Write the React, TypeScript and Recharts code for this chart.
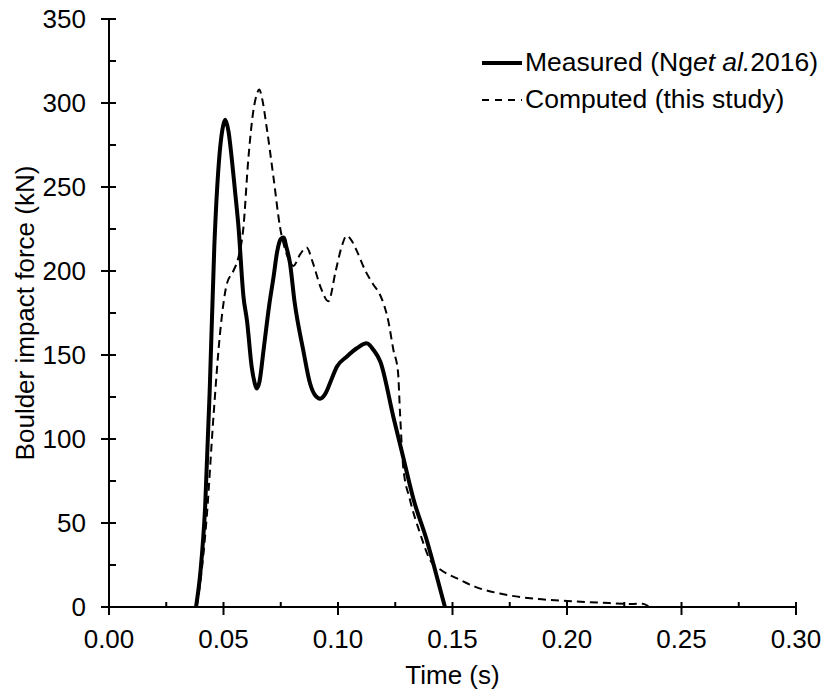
import React from 'react';
import { LineChart, Line, XAxis, YAxis, Legend } from 'recharts';

const measuredTime = [0.038, 0.040, 0.042, 0.044, 0.046, 0.048, 0.0495, 0.0507, 0.0522, 0.0536, 0.0550, 0.0565, 0.0587, 0.0603, 0.0623, 0.0635, 0.0645, 0.0657, 0.0675, 0.0700, 0.0718, 0.0735, 0.0750, 0.0762, 0.0775, 0.0790, 0.0810, 0.0848, 0.0878, 0.0900, 0.0922, 0.0945, 0.0970, 0.0995, 0.1038, 0.1082, 0.1125, 0.1155, 0.1185, 0.1242, 0.1285, 0.1330, 0.1387, 0.1420, 0.1467];
const measuredForce = [0, 22, 60, 130, 215, 265, 284, 290, 283, 267, 248, 227, 185, 170, 143, 134, 130, 134, 153, 180, 196, 212, 219, 220, 214, 205, 182, 153, 133, 126, 124, 127, 135, 143, 149, 154, 157, 153, 146, 113, 89, 64, 40, 24, 0];

const computedTime = [0.0383, 0.0405, 0.0427, 0.0456, 0.0485, 0.0514, 0.0543, 0.0565, 0.0587, 0.0608, 0.0630, 0.0645, 0.0656, 0.0668, 0.0689, 0.0718, 0.0747, 0.0776, 0.0805, 0.0835, 0.0863, 0.0890, 0.0925, 0.0958, 0.0990, 0.1015, 0.1038, 0.1060, 0.1082, 0.1120, 0.1154, 0.1183, 0.1220, 0.1242, 0.1262, 0.1271, 0.1285, 0.1314, 0.1358, 0.1402, 0.1450, 0.1520, 0.1600, 0.1707, 0.1853, 0.2000, 0.2144, 0.2289, 0.2330, 0.2355];
const computedForce = [0, 22, 54, 113, 163, 192, 200, 208, 226, 266, 295, 305, 308, 303, 285, 256, 226, 210, 203, 210, 214, 205, 190, 182, 200, 214, 221, 218, 212, 200, 192, 186, 170, 153, 140, 115, 83, 64, 44, 28, 22, 17, 12, 8, 5, 3.6, 2.6, 1.8, 2, 0.5];

const xTicks = [0, 0.025, 0.05, 0.075, 0.1, 0.125, 0.15, 0.175, 0.2, 0.225, 0.25, 0.275, 0.3];
const yTicks = [0, 25, 50, 75, 100, 125, 150, 175, 200, 225, 250, 275, 300, 325, 350];

const measured = measuredTime.map((t, i) => ({ t, f: measuredForce[i] }));
const computed = computedTime.map((t, i) => ({ t, f: computedForce[i] }));

const font = '"Liberation Sans", Arial, sans-serif';

const XTick = (props: any) => {
  const { x, y, payload } = props;
  const v = payload.value;
  const major = Math.abs(v / 0.05 - Math.round(v / 0.05)) < 1e-6;
  return (
    <g>
      <line x1={x} x2={x} y1={y - 5} y2={major ? y + 8 : y} stroke="#000" strokeWidth={2} />
      {major && (
        <text x={x} y={y + 41} textAnchor="middle" fontSize={26} fontFamily={font} fill="#000">
          {v.toFixed(2)}
        </text>
      )}
    </g>
  );
};

const YTick = (props: any) => {
  const { x, y, payload } = props;
  const major = payload.value % 50 === 0;
  return (
    <g>
      <line x1={major ? x - 8 : x} x2={x + 7} y1={y} y2={y} stroke="#000" strokeWidth={2} />
      {major && (
        <text x={x - 23} y={y + 9} textAnchor="end" fontSize={26} fontFamily={font} fill="#000">
          {payload.value}
        </text>
      )}
    </g>
  );
};

const LegendBox = () => (
  <div style={{ fontFamily: font, fontSize: 26.5, color: '#000', lineHeight: '37px', whiteSpace: 'nowrap' }}>
    <div style={{ display: 'flex', alignItems: 'center' }}>
      <svg width={42} height={10}>
        <line x1={1} x2={41} y1={5} y2={5} stroke="#000" strokeWidth={4} />
      </svg>
      <span style={{ marginLeft: 2 }}>
        Measured (Ng<i>et al.</i>2016)
      </span>
    </div>
    <div style={{ display: 'flex', alignItems: 'center' }}>
      <svg width={42} height={10}>
        <line x1={1} x2={41} y1={5} y2={5} stroke="#000" strokeWidth={2} strokeDasharray="7 6" />
      </svg>
      <span style={{ marginLeft: 2 }}>Computed (this study)</span>
    </div>
  </div>
);

export default function App() {
  return (
    <div style={{ position: 'absolute', left: 0, top: 0, background: '#fff' }}>
      <LineChart width={822} height={694} margin={{ top: 19, right: 26, left: 0, bottom: 0 }}>
        <XAxis
          dataKey="t"
          type="number"
          domain={[0, 0.3]}
          ticks={xTicks}
          interval={0}
          tickSize={0}
          tickMargin={0}
          tick={<XTick />}
          height={87}
          axisLine={{ stroke: '#000', strokeWidth: 2 }}
          allowDuplicatedCategory={false}
          label={{ value: 'Time (s)', position: 'insideBottom', offset: 10, style: { fontSize: 26, fontFamily: font, fill: '#000' } }}
        />
        <YAxis
          type="number"
          domain={[0, 350]}
          ticks={yTicks}
          interval={0}
          tickSize={0}
          tickMargin={0}
          tick={<YTick />}
          width={109}
          axisLine={{ stroke: '#000', strokeWidth: 2 }}
          label={{ value: 'Boulder impact force (kN)', angle: -90, position: 'insideLeft', offset: 25, style: { fontSize: 26, fontFamily: font, fill: '#000', textAnchor: 'middle' } }}
        />
        <Legend
          layout="horizontal"
          verticalAlign="middle"
          align="center"
          content={<LegendBox />}
          wrapperStyle={{ left: 481, top: 44, width: 'auto', height: 'auto' }}
        />
        <Line
          data={computed}
          dataKey="f"
          name="Computed (this study)"
          type="monotone"
          stroke="#000"
          strokeWidth={2}
          strokeDasharray="8 5"
          dot={false}
          isAnimationActive={false}
        />
        <Line
          data={measured}
          dataKey="f"
          name="Measured (Ng et al. 2016)"
          type="monotone"
          stroke="#000"
          strokeWidth={4}
          dot={false}
          isAnimationActive={false}
        />
      </LineChart>
    </div>
  );
}
